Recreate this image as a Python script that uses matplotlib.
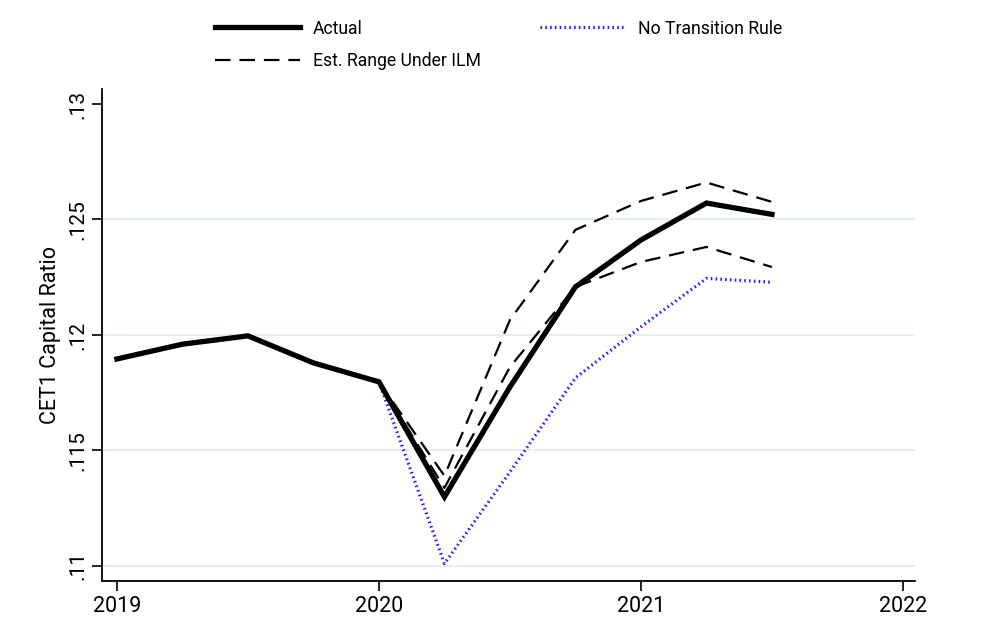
import matplotlib
matplotlib.use("Agg")
import matplotlib.pyplot as plt

plt.rcParams['font.family'] = ['Roboto', 'DejaVu Sans']

# quarterly dates (year fractions)
dates_actual = [2019.0, 2019.25, 2019.5, 2019.75, 2020.0, 2020.25, 2020.5, 2020.75, 2021.0, 2021.25, 2021.5]
actual = [0.11896, 0.1196, 0.11996, 0.11879, 0.11797, 0.11299, 0.11775, 0.12208, 0.12411, 0.12571, 0.12522]

dates_sim = [2020.0, 2020.25, 2020.5, 2020.75, 2021.0, 2021.25, 2021.5]
ilm_upper = [0.11797, 0.1139, 0.12065, 0.12455, 0.1258, 0.12660, 0.12576]
ilm_lower = [0.11797, 0.11338, 0.11861, 0.12208, 0.12316, 0.12381, 0.12294]
no_transition = [0.11797, 0.1101, 0.11407, 0.11814, 0.12035, 0.12245, 0.12228]

yticks = [0.11, 0.115, 0.12, 0.125, 0.13]
ytick_labels = ['.11', '.115', '.12', '.125', '.13']
xticks = [2019, 2020, 2021, 2022]

fig = plt.figure(figsize=(10, 6.22), dpi=100)
ax = fig.add_axes([0.102, 0.066, 0.813, 0.791])

for yv in yticks[:-1]:
    ax.axhline(yv, color='#e6eef1', lw=1.5, zorder=0)

l1, = ax.plot(dates_actual, actual, color='black', lw=3.8, zorder=4, label='Actual',
              solid_joinstyle='miter')
l2, = ax.plot(dates_sim, ilm_upper, color='black', lw=1.6, ls=(0, (7, 4)), zorder=3,
              label='Est. Range Under ILM')
ax.plot(dates_sim, ilm_lower, color='black', lw=1.6, ls=(0, (7, 4)), zorder=3)
l3, = ax.plot(dates_sim, no_transition, color='#1f1fff', lw=2.3, ls=(0, (0.5, 1.0)),
              zorder=2, label='No Transition Rule')

ax.set_xlim(2018.943, 2022.046)
ax.set_ylim(0.10935, 0.13065)
ax.set_xticks(xticks)
ax.set_xticklabels([str(x) for x in xticks], fontsize=15.5)
ax.set_yticks(yticks)
ax.set_yticklabels(ytick_labels, fontsize=15, rotation=90, va='center')
ax.tick_params(axis='both', length=7, width=1.2, color='black')
ax.set_ylabel('CET1 Capital Ratio', fontsize=15.5, labelpad=5)

for s in ['top', 'right']:
    ax.spines[s].set_visible(False)
for s in ['left', 'bottom']:
    ax.spines[s].set_linewidth(1.3)

fig.legend(handles=[l1, l2, l3], ncol=2, frameon=False, fontsize=12.7,
           loc='upper left', bbox_to_anchor=(0.199, 0.994),
           handlelength=4.85, handletextpad=0.7, columnspacing=3.35, labelspacing=0.82)

fig.savefig('out.png', dpi=100)
